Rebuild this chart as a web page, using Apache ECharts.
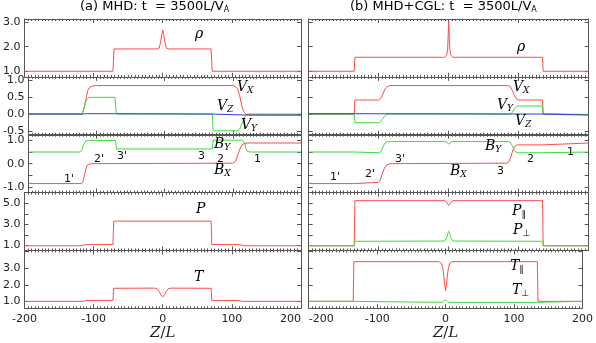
<!DOCTYPE html>
<html><head><meta charset="utf-8">
<script src="https://cdn.jsdelivr.net/npm/echarts@6/dist/echarts.min.js"></script>
<style>html,body{margin:0;padding:0;background:#fff}#c{width:596px;height:343px}</style>
</head><body><div id="c"></div>
<script>
// ---------- data (Z/L, value) ----------
// (a) MHD
const rhoA = [[-200,1.0],[-72,1.0],[-70.5,1.91],[-8,1.91],[-5,1.95],[-3,2.2],[-1.5,2.5],[0,2.68],[1.5,2.5],[3,2.2],[5,1.95],[8,1.91],[70,1.91],[71.5,1.0],[200,1.0]];
const VxA = [[-200,0],[-122,0],[-119,0.12],[-116,0.42],[-113,0.7],[-110,0.8],[-106,0.84],[-100,0.85],[100,0.85],[104,0.82],[107,0.75],[110,0.55],[113,0.25],[116,0.07],[120,-0.02],[200,-0.03]];
const VyA = [[-200,0],[-121,0],[-118,0.2],[-115,0.42],[-112,0.49],[-108,0.5],[-73,0.5],[-71,0.0],[70,0.0],[71,-0.5],[106,-0.5],[110,-0.45],[114,-0.25],[118,-0.07],[121,0],[200,0]];
const VzA = [[-200,0],[-120,0],[-115,0.01],[-72,0.01],[-71,0],[70,0],[72,-0.02],[120,-0.03],[200,-0.03]];
const BxA = [[-200,-0.84],[-122,-0.84],[-120,-0.75],[-118,-0.5],[-116,-0.25],[-114,-0.08],[-111,-0.02],[-105,0],[100,0.02],[104,0.1],[107,0.35],[110,0.6],[113,0.78],[117,0.85],[122,0.87],[200,0.87]];
const ByA = [[-200,0.49],[-125,0.49],[-122,0.55],[-119,0.8],[-116,0.95],[-112,0.98],[-72,0.98],[-71,0.62],[70,0.62],[71,0.99],[114,0.99],[117,0.9],[119,0.65],[121,0.52],[125,0.49],[200,0.49]];
const PA = [[-200,0.95],[-118,0.95],[-112,1.05],[-72,1.07],[-71,3.3],[70,3.3],[71,1.07],[112,1.05],[118,0.95],[200,0.95]];
const TA = [[-200,1.0],[-115,1.0],[-110,1.05],[-72,1.06],[-71,1.79],[-12,1.8],[-8,1.76],[-5,1.6],[-3,1.4],[-1,1.3],[0,1.28],[1,1.3],[3,1.4],[5,1.6],[8,1.76],[12,1.8],[70,1.79],[71,1.06],[110,1.05],[115,1.0],[200,1.0]];
// (b) MHD+CGL
const rhoB = [[-200,1.0],[-135,1.0],[-134,1.57],[-6,1.57],[-3,1.65],[-1.5,1.9],[-0.7,2.5],[0,3.02],[0.7,2.5],[1.5,1.9],[3,1.65],[6,1.57],[134,1.57],[135,1.0],[200,1.0]];
const VxB = [[-200,0],[-135,0],[-134,0.42],[-100,0.42],[-97,0.47],[-94,0.6],[-91,0.75],[-88,0.82],[-84,0.85],[85,0.85],[88,0.82],[91,0.7],[94,0.55],[97,0.45],[100,0.42],[134,0.42],[135,0],[200,-0.02]];
const VyB = [[-200,0],[-135,0],[-134,-0.26],[-100,-0.26],[-97,-0.22],[-94,-0.13],[-91,-0.05],[-88,-0.01],[-84,0],[88,0],[91,0.05],[94,0.17],[97,0.23],[100,0.24],[134,0.24],[135,0],[200,-0.01]];
const VzB = [[-200,0.01],[-135,0.01],[-134,0],[134,0],[135,-0.03],[200,-0.03]];
const BxB = [[-200,-0.84],[-135,-0.84],[-134,-0.79],[-101,-0.79],[-98,-0.7],[-95,-0.45],[-92,-0.2],[-89,-0.06],[-85,-0.01],[-80,0],[83,0.02],[86,0.08],[89,0.3],[92,0.6],[95,0.75],[98,0.79],[134,0.79],[135,0.87],[200,0.87]];
const ByB = [[-200,0.49],[-135,0.49],[-134,0.46],[-100,0.46],[-97,0.5],[-94,0.7],[-91,0.87],[-88,0.92],[-82,0.93],[-4,0.93],[-1.5,0.86],[0,0.83],[1.5,0.86],[4,0.93],[85,0.93],[88,0.9],[91,0.75],[94,0.55],[97,0.47],[100,0.46],[134,0.46],[135,0.49],[200,0.49]];
const PparB = [[-200,0.95],[-135,0.95],[-134,5.25],[-6,5.25],[-3,5.1],[0,4.8],[3,5.1],[6,5.25],[134,5.25],[135,0.95],[200,0.95]];
const PperpB = [[-200,0.95],[-135,0.95],[-134,1.38],[-6,1.4],[-3,1.7],[-1.5,2.1],[0,2.33],[1.5,2.1],[3,1.7],[6,1.4],[134,1.38],[135,0.95],[200,0.95]];
const TparB = [[-200,1.0],[-135,1.0],[-134,3.4],[-10,3.4],[-6,3.3],[-4,3.0],[-2.5,2.5],[-1.2,2.0],[0,1.64],[1.2,2.0],[2.5,2.5],[4,3.0],[6,3.3],[10,3.4],[134,3.4],[135,1.0],[200,1.0]];
const TperpB = [[-200,1.0],[-135,1.0],[-134,0.94],[-5,0.94],[-3,1.02],[-1.5,1.06],[0,0.97],[1.5,1.06],[3,1.02],[5,0.94],[134,0.94],[135,1.0],[200,1.0]];

// axis tick values
const xTicks = [-200,-100,0,100,200];
const yRanges = [[0.77,3.13],[-0.62,1.11],[-1.22,1.22],[0.5,6.02],[0.58,4.08]];
const yTickVals = [[1,2,3],[-0.5,0,0.5,1],[-1,-0.5,0,0.5,1],[1,2,3,4,5],[1,2,3,4]];
const yLabelVals = [[1,2,3],[-0.5,0,0.5,1],[-1,0,1],[1,3,5],[1,2,3]];
const titles = ['(a) MHD: t  = 3500L/V','(b) MHD+CGL: t  = 3500L/V'];

// ---------- layout ----------
const RED = '#ff4a4a', GREEN = '#3ddc3d', BLUE = '#2f3fd8';
const colLeft = [21, 308.7], colW = 280;
const rowTop = [19, 76.9, 134.7, 192.6, 250.4], rowH = 57.9;
const axisCol = '#555';

const grid = [], xAxis = [], yAxis = [], series = [];
for (let c = 0; c < 2; c++) {
  for (let r = 0; r < 5; r++) {
    const g = grid.length;
    grid.push({left: colLeft[c], top: rowTop[r], width: colW, height: rowH, show: false});
    const lastRow = r === 4;
    const xBase = {
      type: 'value', gridIndex: g, min: -200, max: 200, interval: 100,
      axisLine: {show: true, onZero: false, lineStyle: {color: axisCol, width: 1}},
      axisTick: {show: true, inside: true, length: 4, lineStyle: {color: axisCol}},
      minorTick: {show: true, splitNumber: 20, length: 2, lineStyle: {color: axisCol}},
      splitLine: {show: false}
    };
    xAxis.push(Object.assign({}, xBase, {
      position: 'bottom',
      axisLabel: {show: lastRow, fontSize: 11, color: '#222', margin: 5, fontFamily: 'DejaVu Sans',
        alignMinLabel: c === 0 ? 'center' : 'left', alignMaxLabel: c === 0 ? 'right' : 'center',
        formatter: v => String(v)},
      name: lastRow ? '{i|Z}{n|/}{i|L}' : '', nameLocation: 'middle', nameGap: 17,
      nameTextStyle: {rich: {i: {fontFamily: 'DejaVu Serif', fontStyle: 'italic', fontSize: 15, color: '#222'},
                             n: {fontFamily: 'DejaVu Serif', fontSize: 15, color: '#222'}}}
    }));
    xAxis.push(Object.assign({}, xBase, {position: 'top', axisLabel: {show: false}}));
    const yBase = {
      type: 'value', gridIndex: g, min: yRanges[r][0], max: yRanges[r][1],
      axisLine: {show: true, onZero: false, lineStyle: {color: axisCol, width: 1}},
      axisTick: {show: true, inside: true, length: 4, customValues: yTickVals[r], lineStyle: {color: axisCol}},
      splitLine: {show: false}
    };
    yAxis.push(Object.assign({}, yBase, {
      position: 'left',
      axisLabel: {show: c === 0, customValues: yLabelVals[r], fontSize: 11, color: '#222', margin: 4,
        fontFamily: 'DejaVu Sans', formatter: v => v.toFixed(1)}
    }));
    yAxis.push(Object.assign({}, yBase, {position: 'right', axisLabel: {show: false}}));
  }
}
function addSeries(g, data, color) {
  series.push({type: 'line', xAxisIndex: 2 * g, yAxisIndex: 2 * g, data: data, showSymbol: false,
    lineStyle: {color: color, width: 1}, itemStyle: {color: color}, silent: true, animation: false});
}
addSeries(0, rhoA, RED);
addSeries(1, VxA, RED); addSeries(1, VyA, GREEN); addSeries(1, VzA, BLUE);
addSeries(2, ByA, GREEN); addSeries(2, BxA, RED);
addSeries(3, PA, RED);
addSeries(4, TA, RED);
addSeries(5, rhoB, RED);
addSeries(6, VxB, RED); addSeries(6, VyB, GREEN); addSeries(6, VzB, BLUE);
addSeries(7, ByB, GREEN); addSeries(7, BxB, RED);
addSeries(8, PparB, RED); addSeries(8, PperpB, GREEN);
addSeries(9, TparB, RED); addSeries(9, TperpB, GREEN);

// ---------- annotations ----------
const mathRich = {
  m: {fontFamily: 'DejaVu Serif', fontStyle: 'italic', fontSize: 14, color: '#111'},
  s: {fontFamily: 'DejaVu Serif', fontStyle: 'italic', fontSize: 9, color: '#111', padding: [7, 0, 0, 0]},
  u: {fontFamily: 'DejaVu Sans', fontSize: 9, color: '#111', padding: [7, 0, 0, 0]}
};
function mathText(x, y, txt) {
  return {type: 'text', left: x, top: y, style: {text: txt, rich: mathRich}, z: 100};
}
function numText(x, y, txt) {
  return {type: 'text', left: x, top: y, style: {text: txt, fontFamily: 'DejaVu Sans', fontSize: 11, fill: '#111'}, z: 100};
}
const titleRich = {
  t: {fontFamily: 'DejaVu Sans', fontSize: 13, color: '#222'},
  a: {fontFamily: 'DejaVu Sans', fontSize: 8, color: '#222', padding: [7, 0, 0, 0]}
};
const graphic = [
  {type: 'text', left: 80, top: 0, style: {text: '{t|' + titles[0] + '}{a|A}', rich: titleRich}},
  {type: 'text', left: 350, top: 0, style: {text: '{t|' + titles[1] + '}{a|A}', rich: titleRich}},
  // left column
  mathText(195, 27, '{m|ρ}'),
  mathText(237, 80, '{m|V}{s|X}'),
  mathText(217, 99, '{m|V}{s|Z}'),
  mathText(241, 118, '{m|V}{s|Y}'),
  mathText(214, 137, '{m|B}{s|Y}'),
  mathText(214, 163, '{m|B}{s|X}'),
  numText(64, 174, "1'"), numText(94, 154, "2'"), numText(117, 151, "3'"),
  numText(198, 151, '3'), numText(217, 154, '2'), numText(254, 154, '1'),
  mathText(196, 202, '{m|P}'),
  mathText(194, 270, '{m|T}'),
  // right column
  mathText(517, 40, '{m|ρ}'),
  mathText(513, 80, '{m|V}{s|X}'),
  mathText(497, 98, '{m|V}{s|Y}'),
  mathText(515, 114, '{m|V}{s|Z}'),
  mathText(485, 139, '{m|B}{s|Y}'),
  mathText(450, 164, '{m|B}{s|X}'),
  numText(330, 172, "1'"), numText(365, 169, "2'"), numText(395, 154, "3'"),
  numText(497, 166, '3'), numText(527, 154, '2'), numText(567, 147, '1'),
  mathText(512, 204, '{m|P}{u|∥}'),
  mathText(513, 223, '{m|P}{u|⊥}'),
  mathText(510, 259, '{m|T}{u|∥}'),
  mathText(512, 283, '{m|T}{u|⊥}')
];

const chart = echarts.init(document.getElementById('c'), null, {renderer: 'canvas'});
chart.setOption({animation: false, grid, xAxis, yAxis, series, graphic});
</script></body></html>
